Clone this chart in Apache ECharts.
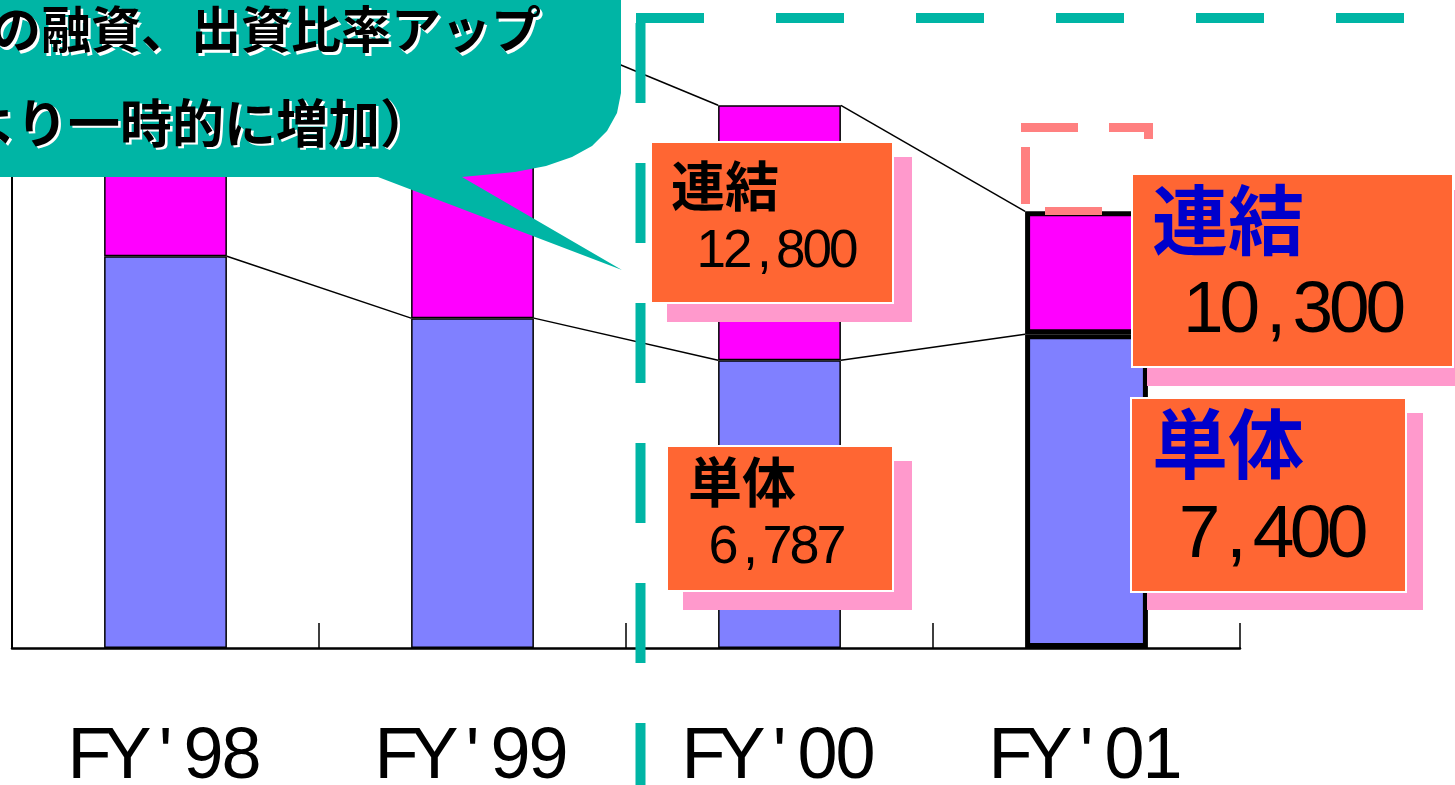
<!DOCTYPE html>
<html>
<head>
<meta charset="utf-8">
<script src="https://cdn.jsdelivr.net/npm/echarts@6.0.0/dist/echarts.min.js"></script>
<style>
  html, body { margin: 0; padding: 0; background: #fff; }
  #chart { width: 1455px; height: 785px; }
</style>
</head>
<body>
<div id="chart"></div>
<script>
'use strict';

// データ
const categories = ["FY'98", "FY'99", "FY'00", "FY'01"];
const tanTai = [9240, 7780, 6787, 7400];       // 単体
const renketsu = [13900, 14600, 12800, 10300]; // 連結
const bubbleLines = ['の融資、出資比率アップ', 'より一時的に増加）'];

const BAR_RATIO = 0.4;
const TEAL = '#00B5A5';
const ORANGE = '#FF6633';
const SHADOW = '#FF99CC';
const LATIN = '"Liberation Sans", Arial, sans-serif';

const diff = renketsu.map((v, i) => v - tanTai[i]);
const fmt = (v) => v.toLocaleString('en-US');
const mono = (str, key) => str.split('').map((ch) => '{' + key + '|' + ch + '}').join('');

function barData(values) {
  return values.map((v, i) => ({
    value: v,
    itemStyle: i === 3 ? { borderWidth: 5 } : {}
  }));
}

function connectorData(values) {
  const out = [];
  for (let i = 0; i < values.length - 1; i++) out.push([i, values[i], values[i + 1]]);
  return out;
}

function renderConnector(params, api) {
  const i = api.value(0);
  const a = api.coord([i, api.value(1)]);
  const b = api.coord([i + 1, api.value(2)]);
  const half = api.size([1, 0])[0] * BAR_RATIO / 2;
  return {
    type: 'line',
    shape: { x1: a[0] + half, y1: a[1], x2: b[0] - half, y2: b[1] },
    style: { stroke: '#000', lineWidth: 1.5 }
  };
}

// 注記ボックス
const boxes = [
  { title: '連結', value: renketsu[2], x: 651, y: 142, w: 242, h: 161, sx: 667, sy: 157, sw: 245, sh: 165,
    tx: 671, ty: 186, nx: 698, ny: 252, tSize: 54, nSize: 53, cell: 26.5, color: '#000' },
  { title: '単体', value: tanTai[2], x: 667, y: 446, w: 226, h: 145, sx: 683, sy: 461, sw: 229, sh: 149,
    tx: 688, ty: 482, nx: 710, ny: 548, tSize: 54, nSize: 54, cell: 27, color: '#000' },
  { title: '連結', value: renketsu[3], x: 1132, y: 174, w: 321, h: 193, sx: 1147, sy: 190, sw: 330, sh: 196,
    tx: 1152, ty: 220, nx: 1185, ny: 312, tSize: 76, nSize: 73, cell: 36.5, color: '#0000CC' },
  { title: '単体', value: tanTai[3], x: 1131, y: 398, w: 275, h: 194, sx: 1147, sy: 413, sw: 276, sh: 197,
    tx: 1152, ty: 444, nx: 1181, ny: 536, tSize: 76, nSize: 75, cell: 37, color: '#0000CC' }
];

const graphic = [];

boxes.forEach((b) => {
  graphic.push({ type: 'rect', z: 110, shape: { x: b.sx, y: b.sy, width: b.sw, height: b.sh }, style: { fill: SHADOW } });
  graphic.push({ type: 'rect', z: 111, shape: { x: b.x, y: b.y, width: b.w, height: b.h }, style: { fill: ORANGE, stroke: '#fff', lineWidth: 2 } });
  graphic.push({
    type: 'text', z: 112, x: b.tx, y: b.ty,
    style: { text: b.title, fill: b.color, font: 'bold ' + b.tSize + 'px "Noto Sans CJK JP"', verticalAlign: 'middle', align: 'left' }
  });
  graphic.push({
    type: 'text', z: 112, x: b.nx, y: b.ny,
    style: {
      text: mono(fmt(b.value), 'n'), verticalAlign: 'middle', align: 'left',
      rich: { n: { width: b.cell, align: 'center', fontSize: b.nSize, fontFamily: LATIN, color: b.color } }
    }
  });
});

// 吹き出し
graphic.push({
  type: 'polygon', z: 100,
  shape: { points: [[-60, -60], [621, -60], [621, 93], [617, 113], [607, 131], [592, 146], [572, 157], [546, 166], [515, 172], [462, 177], [622, 270], [378, 177], [-60, 177]] },
  style: { fill: TEAL }
});
const bubbleText = [
  { text: bubbleLines[0], x: 541, y: 29, size: 50 },
  { text: bubbleLines[1], x: 432, y: 123, size: 52 }
];
bubbleText.forEach((t) => {
  const font = 'bold ' + t.size + 'px "Noto Sans CJK JP"';
  graphic.push({ type: 'text', z: 101, x: t.x + 2.5, y: t.y + 2.5,
    style: { text: t.text, fill: '#fff', font: font, align: 'right', verticalAlign: 'middle' } });
  graphic.push({ type: 'text', z: 102, x: t.x, y: t.y,
    style: { text: t.text, fill: '#000', font: font, align: 'right', verticalAlign: 'middle' } });
});

// 破線枠（緑）
graphic.push({ type: 'line', z: 105, shape: { x1: 640.5, y1: 23, x2: 640.5, y2: 800 }, style: { stroke: TEAL, lineWidth: 10, lineDash: [80, 60] } });
graphic.push({ type: 'line', z: 105, shape: { x1: 636, y1: 18, x2: 1455, y2: 18 }, style: { stroke: TEAL, lineWidth: 10, lineDash: [68, 72] } });

// 破線枠（ピンク）
const PINK_LINE = '#FF8080';
graphic.push({ type: 'line', z: 105, shape: { x1: 1025.5, y1: 147, x2: 1025.5, y2: 204 }, style: { stroke: PINK_LINE, lineWidth: 9 } });
graphic.push({ type: 'line', z: 105, shape: { x1: 1021, y1: 127.5, x2: 1078, y2: 127.5 }, style: { stroke: PINK_LINE, lineWidth: 9 } });
graphic.push({ type: 'polyline', z: 105, shape: { points: [[1109, 127.5], [1148.5, 127.5], [1148.5, 139]] }, style: { stroke: PINK_LINE, lineWidth: 9, lineJoin: 'miter' } });
graphic.push({ type: 'line', z: 105, shape: { x1: 1045, y1: 211, x2: 1102, y2: 211 }, style: { stroke: PINK_LINE, lineWidth: 8 } });

const option = {
  animation: false,
  backgroundColor: '#fff',
  grid: { left: 12, right: 215, top: 12, bottom: 137, outerBoundsMode: 'none', containLabel: false },
  xAxis: {
    type: 'category',
    data: categories,
    axisLine: { show: true, lineStyle: { color: '#000', width: 2.5 } },
    axisTick: { show: true, inside: true, length: 25, lineStyle: { color: '#000', width: 1.5 } },
    axisLabel: {
      show: true,
      interval: 0,
      margin: 74,
      formatter: (v) => mono(v, 'c'),
      rich: { c: { width: 38, align: 'center', fontSize: 72, fontFamily: LATIN, color: '#000' } }
    }
  },
  yAxis: {
    type: 'value',
    min: 0,
    max: 15000,
    axisLine: { show: true, lineStyle: { color: '#000', width: 2 } },
    axisTick: { show: false },
    axisLabel: { show: false },
    splitLine: { show: false }
  },
  series: [
    {
      name: '単体', type: 'bar', stack: 'total', barWidth: (BAR_RATIO * 100) + '%',
      itemStyle: { color: '#8080FF', borderColor: '#000', borderWidth: 1.5 },
      data: barData(tanTai)
    },
    {
      name: '連結', type: 'bar', stack: 'total', barWidth: (BAR_RATIO * 100) + '%',
      itemStyle: { color: '#FF00FF', borderColor: '#000', borderWidth: 1.5 },
      data: barData(diff)
    },
    { type: 'custom', renderItem: renderConnector, encode: { x: 0, y: [1, 2] }, data: connectorData(tanTai), z: 3 },
    { type: 'custom', renderItem: renderConnector, encode: { x: 0, y: [1, 2] }, data: connectorData(renketsu), z: 3 }
  ],
  graphic: graphic
};

const chart = echarts.init(document.getElementById('chart'));
chart.setOption(option);
</script>
</body>
</html>
